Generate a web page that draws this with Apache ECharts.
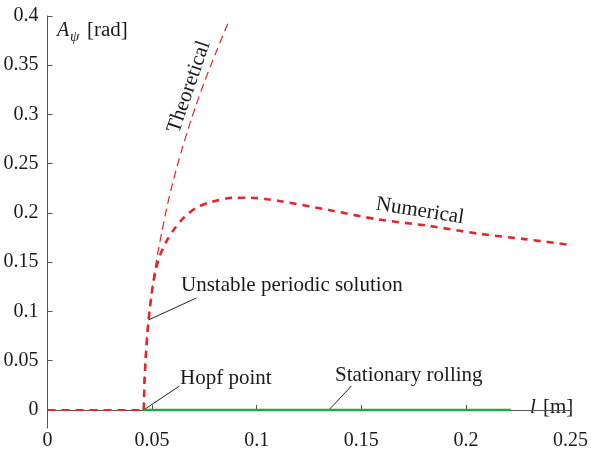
<!DOCTYPE html>
<html>
<head>
<meta charset="utf-8">
<script src="https://cdn.jsdelivr.net/npm/echarts@6/dist/echarts.min.js"></script>
<style>
  html, body { margin: 0; padding: 0; background: #fff; }
  #main { width: 591px; height: 453px; }
</style>
</head>
<body>
<div id="main"></div>
<script>
// tick labels
var xTicks = [0, 0.05, 0.1, 0.15, 0.2, 0.25];
var yTicks = [0, 0.05, 0.1, 0.15, 0.2, 0.25, 0.3, 0.35, 0.4];

// curves: [l, A]
var numerical = [
  [0.046, 0], [0.0464, 0.03], [0.0472, 0.061], [0.0483, 0.091], [0.0504, 0.127],
  [0.052, 0.144], [0.0536, 0.156], [0.0568, 0.171], [0.0607, 0.184], [0.0655, 0.196],
  [0.071, 0.205], [0.078, 0.211], [0.0893, 0.2155], [0.097, 0.2155], [0.105, 0.214],
  [0.1115, 0.212], [0.1345, 0.203], [0.158, 0.1935], [0.182, 0.187], [0.206, 0.179],
  [0.228, 0.1735], [0.25, 0.1675]
];
var theoretical = [
  [0.046, 0], [0.0462, 0.028], [0.0467, 0.052], [0.0477, 0.081], [0.0494, 0.114],
  [0.0512, 0.141], [0.0544, 0.178], [0.0573, 0.208], [0.0599, 0.231], [0.0639, 0.262],
  [0.0687, 0.295], [0.075, 0.333], [0.0813, 0.367], [0.0869, 0.396]
];
var belowHopf = [[0, 0], [0.046, 0]];
var stationary = [[0.046, 0], [0.2215, 0]];

// leader lines of the annotations
var leaderUnstable = [[0.0483, 0.0914], [0.0712, 0.1137]];
var leaderHopf = [[0.046, 0], [0.0631, 0.0244]];
var leaderStationary = [[0.1345, 0], [0.1453, 0.0244]];

var RED = '#e2262b';
var GREEN = '#20a845';
var INK = '#1a1a1a';
var SERIF = '"Liberation Serif", "DejaVu Serif", serif';

var chart = echarts.init(document.getElementById('main'));

function leader(data) {
  return {
    type: 'line', data: data, symbol: 'none', silent: true, z: 1,
    lineStyle: { color: '#222', width: 1 }
  };
}

function txt(x, y, s, extra) {
  var o = {
    type: 'text', x: x, y: y, silent: true,
    style: { text: s, fill: INK, font: '21px ' + SERIF, verticalAlign: 'middle' }
  };
  for (var k in extra) o[k] = extra[k];
  return o;
}

var option = {
  animation: false,
  backgroundColor: '#fff',
  grid: { left: 47.5, right: 19, top: 16, bottom: 25 },
  xAxis: {
    type: 'value', min: 0, max: 0.25,
    axisLine: { lineStyle: { color: '#555', width: 1 } },
    axisTick: { inside: true, length: 5, customValues: xTicks, lineStyle: { color: '#555' } },
    axisLabel: { customValues: xTicks, color: INK, fontFamily: SERIF, fontSize: 20, margin: 3 },
    splitLine: { show: false }
  },
  yAxis: {
    type: 'value', min: -0.0183, max: 0.4,
    axisLine: { show: true, lineStyle: { color: '#555', width: 1 } },
    axisTick: { show: true, inside: true, length: 5, customValues: yTicks, lineStyle: { color: '#555' } },
    axisLabel: { customValues: yTicks, color: INK, fontFamily: SERIF, fontSize: 20, margin: 9 },
    splitLine: { show: false }
  },
  series: [
    {
      type: 'line', data: belowHopf, symbol: 'none',
      lineStyle: { color: RED, width: 2, type: [8, 6] }
    },
    {
      type: 'line', data: theoretical, symbol: 'none', smooth: 0.3,
      lineStyle: { color: RED, width: 1.2, type: [8, 5] }
    },
    {
      type: 'line', data: numerical, symbol: 'none', smooth: 0.3,
      lineStyle: { color: RED, width: 2.6, type: [7, 6] }
    },
    {
      type: 'line', data: stationary, symbol: 'none', z: 3,
      lineStyle: { color: GREEN, width: 2.6 }
    },
    leader(leaderUnstable),
    leader(leaderHopf),
    leader(leaderStationary)
  ],
  graphic: [
    txt(57, 31, '', { style: { text: 'A', fill: INK, font: 'italic 20px ' + SERIF, verticalAlign: 'middle' } }),
    txt(70, 37, '', { style: { text: 'ψ', fill: INK, font: 'italic 15px ' + SERIF, verticalAlign: 'middle' } }),
    txt(87, 31, '', { scaleX: 1.05, style: { text: '[rad]', fill: INK, font: '20px ' + SERIF, verticalAlign: 'middle' } }),
    txt(530, 407, '', { style: { text: 'l', fill: INK, font: 'italic 21px ' + SERIF, verticalAlign: 'middle' } }),
    txt(543, 407, '[m]'),
    txt(189, 87, '', {
      rotation: 71 * Math.PI / 180,
      style: { text: 'Theoretical', fill: INK, font: '21px ' + SERIF, align: 'center', verticalAlign: 'middle' }
    }),
    txt(420, 211, '', {
      rotation: -9 * Math.PI / 180,
      style: { text: 'Numerical', fill: INK, font: '21px ' + SERIF, align: 'center', verticalAlign: 'middle' }
    }),
    txt(181, 285, 'Unstable periodic solution'),
    txt(180, 378, 'Hopf point'),
    txt(335, 375, 'Stationary rolling')
  ]
};

chart.setOption(option);
</script>
</body>
</html>
